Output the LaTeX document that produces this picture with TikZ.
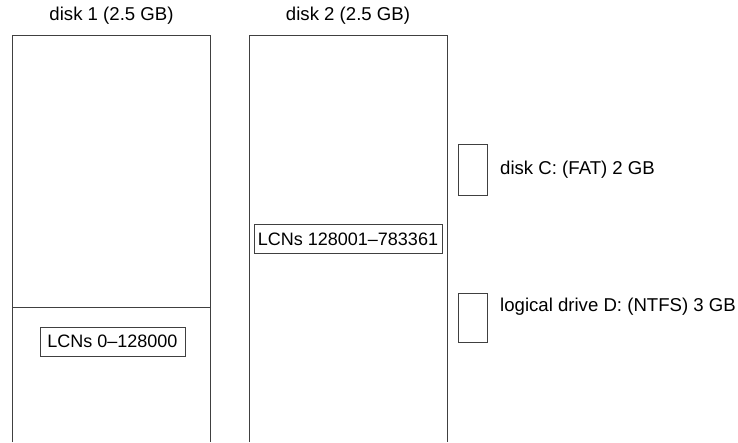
\documentclass[tikz,border=0pt]{standalone}
\usepackage{fontspec}
\setmainfont{Liberation Sans}
\tikzset{
  frame/.style={draw=black!75, line width=0.9pt},
  lbl/.style={font=\fontsize{18.6}{20}\selectfont, inner sep=0pt},
  lcnbox/.style={frame, font=\fontsize{18}{20}\selectfont, inner xsep=3pt, minimum height=29pt},
  volbox/.style={frame, minimum width=29pt, inner sep=0pt}
}
\begin{document}
\begin{tikzpicture}[x=1pt, y=-1pt]
  \useasboundingbox (0,0) rectangle (738,442);
  % disk 1: open-bottomed column with the partition boundary
  \draw[frame] (12,442) -- (12,35) -- (210,35) -- (210,442);
  \draw[frame] (12,307) -- (210,307);
  % disk 2
  \draw[frame] (249,442) -- (249,35) -- (447,35) -- (447,442);
  % disk titles
  \node[lbl] (t1) at (111.5,16) {disk 1 (2.5 GB)};
  \node[lbl] (t2) at (348,16) {disk 2 (2.5 GB)};
  % cluster ranges
  \node[lcnbox, minimum width=145pt] (lcn1) at (112.5,341.5) {LCNs 0–128000};
  \node[lcnbox, minimum width=188pt] (lcn2) at (348,239) {LCNs 128001–783361};
  % legend of volumes
  \node[volbox, minimum height=51pt] (vc) at (472.5,169.5) {};
  \node[lbl, anchor=west] (tc) at (500,170) {disk C: (FAT) 2 GB};
  \node[volbox, minimum height=49pt] (vd) at (473,317.5) {};
  \node[lbl, anchor=west] (td) at (500,307) {logical drive D: (NTFS) 3 GB};
\end{tikzpicture}
\end{document}
